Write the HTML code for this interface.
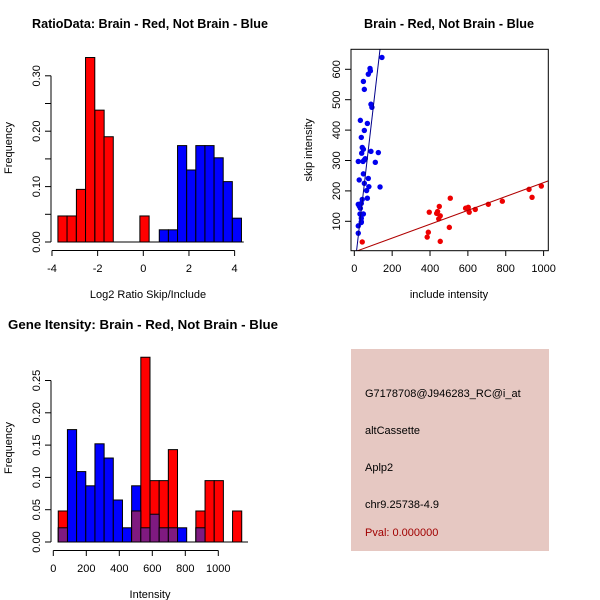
<!DOCTYPE html>
<html><head><meta charset="utf-8"><style>
html,body{margin:0;padding:0;background:#fff;}
svg{display:block;font-family:"Liberation Sans",sans-serif;}
</style></head><body>
<svg id="c" width="600" height="600" viewBox="0 0 600 600">
<rect x="0" y="0" width="600" height="600" fill="#fff"/>
<g id="p1"></g>
<g id="p2"></g>
<g id="p3"></g>
<g id="p4">
<rect x="351" y="349" width="198" height="202" fill="#e6c8c2"/>
<text x="365" y="397" font-size="11" fill="#000">G7178708@J946283_RC@i_at</text>
<text x="365" y="434" font-size="11" fill="#000">altCassette</text>
<text x="365" y="471" font-size="11" fill="#000">Aplp2</text>
<text x="365" y="508" font-size="11" fill="#000">chr9.25738-4.9</text>
<text x="365" y="536" font-size="11" fill="#a00000">Pval: 0.000000</text>
</g>
</svg>
<script>
// ---- Panel 1 data: log2 ratio histogram ----
const ratioRedLeft = [-3.74,-3.34,-2.93,-2.53,-2.12,-1.72,-0.15];
const ratioRedVals = [0.047,0.047,0.095,0.333,0.238,0.19,0.047];
const ratioBlueLeft = [0.70,1.10,1.50,1.90,2.30,2.70,3.10,3.50,3.90];
const ratioBlueVals = [0.022,0.022,0.174,0.13,0.174,0.174,0.152,0.109,0.043];
const ratioBinWidth = 0.405;
const ratioXTicks = [-4,-2,0,2,4];
const ratioYTicks = [0,0.1,0.2,0.3];
const ratioYTickLabels = ["0.00","0.10","0.20","0.30"];
// ---- Panel 2 data: scatter ----
const blueInclude = [146,83,85,74,48,53,88,93,32,69,53,37,42,48,88,127,39,21,46,53,111,58,48,26,74,53,77,136,65,69,42,21,26,37,32,30,48,37,37,21,21,37];
const blueSkip = [639,603,595,584,560,534,485,475,432,422,399,376,343,337,330,326,324,297,297,302,294,306,256,236,241,225,214,213,201,176,172,156,150,159,143,124,124,110,96,85,61,99];
const redInclude = [42,396,391,385,449,440,435,454,446,454,502,507,588,602,607,639,708,782,923,939,988];
const redSkip = [32,130,64,48,149,132,126,118,108,34,80,176,143,146,130,139,156,166,205,179,216];
const blueFit = [-60.7,5.35];
const redFit = [-0.8,0.228];
const scatterXTicks = [0,200,400,600,800,1000];
const scatterYTicks = [100,200,300,400,500,600];
// ---- Panel 3 data: intensity histogram ----
const intStart = 30, intWidth = 55.6;
const intRed = [0.048,0,0,0,0,0,0,0,0.048,0.286,0.095,0.095,0.143,0,0,0.048,0.095,0.095,0,0.048];
const intBlue = [0.022,0.174,0.109,0.087,0.152,0.13,0.065,0.022,0.087,0.022,0.043,0.022,0.022,0.022,0,0.022,0,0,0,0];
const intXTicks = [0,200,400,600,800,1000];
const intYTicks = [0,0.05,0.1,0.15,0.2,0.25];
const intYTickLabels = ["0.00","0.05","0.10","0.15","0.20","0.25"];

const NS="http://www.w3.org/2000/svg";
function mk(parent,tag,attrs,txt){const e=document.createElementNS(NS,tag);for(const k in attrs)e.setAttribute(k,attrs[k]);if(txt!==undefined)e.textContent=txt;parent.appendChild(e);return e;}

// Panel 1
(function(){
const g=document.getElementById('p1');
const X=v=>143.3+v*22.83, Y=v=>242-v*554;
let t=mk(g,'text',{x:32,y:28,'font-size':12.5,'font-weight':'bold',textLength:236,lengthAdjust:'spacingAndGlyphs'},'RatioData: Brain - Red, Not Brain - Blue');


ratioRedLeft.forEach((l,i)=>{const r=mk(g,'rect',{x:X(l),y:Y(ratioRedVals[i]),width:X(l+ratioBinWidth)-X(l),height:Y(0)-Y(ratioRedVals[i]),fill:'#ff0000',stroke:'#000','stroke-width':1});

});
ratioBlueLeft.forEach((l,i)=>{const r=mk(g,'rect',{x:X(l),y:Y(ratioBlueVals[i]),width:X(l+0.4)-X(l),height:Y(0)-Y(ratioBlueVals[i]),fill:'#0000ff',stroke:'#000','stroke-width':1});

});
let b=mk(g,'line',{x1:X(-3.74),x2:X(4.4),y1:Y(0),y2:Y(0),stroke:'#000'});


mk(g,'line',{x1:X(-4),x2:X(4),y1:250.5,y2:250.5,stroke:'#000'});
ratioXTicks.forEach(v=>{mk(g,'line',{x1:X(v),x2:X(v),y1:250.5,y2:256,stroke:'#000'});
const l=mk(g,'text',{x:X(v),y:272,'font-size':11,'text-anchor':'middle'},String(v));

});
mk(g,'line',{x1:51,x2:51,y1:Y(0),y2:Y(0.3),stroke:'#000'});
ratioYTicks.forEach((v,i)=>{mk(g,'line',{x1:45,x2:51,y1:Y(v),y2:Y(v),stroke:'#000'});
const l=mk(g,'text',{x:0,y:0,'font-size':11,'text-anchor':'middle',transform:`translate(40,${Y(v)}) rotate(-90)`},ratioYTickLabels[i]);

});
for(let v=0.05;v<0.3;v+=0.1){mk(g,'line',{x1:45,x2:51,y1:Y(v),y2:Y(v),stroke:'#000'});}
let xl=mk(g,'text',{x:148,y:298,'font-size':11,'text-anchor':'middle'},'Log2 Ratio Skip/Include');


let yl=mk(g,'text',{x:0,y:0,'font-size':11,'text-anchor':'middle',transform:'translate(12,148) rotate(-90)'},'Frequency');


})();

// Panel 2
(function(){
const g=document.getElementById('p2');
const X=v=>354.3+v*0.1893, Y=v=>251.7-v*0.304;
let t=mk(g,'text',{x:364,y:28,'font-size':12.5,'font-weight':'bold',textLength:170,lengthAdjust:'spacingAndGlyphs'},'Brain - Red, Not Brain - Blue');


const cp=mk(g,'clipPath',{id:'scClip'});mk(cp,'rect',{x:351,y:49,width:197.5,height:202});
blueInclude.forEach((v,i)=>{const c=mk(g,'circle',{cx:X(v),cy:Y(blueSkip[i]),r:2.7,fill:'#0000ee'});

});
redInclude.forEach((v,i)=>{const c=mk(g,'circle',{cx:X(v),cy:Y(redSkip[i]),r:2.7,fill:'#ee0000'});

});
let bl=mk(g,'line',{x1:X(0),y1:Y(blueFit[0]),x2:X(200),y2:Y(blueFit[0]+blueFit[1]*200),stroke:'#00008b','clip-path':'url(#scClip)'});


let rl=mk(g,'line',{x1:X(-50),y1:Y(redFit[0]-50*redFit[1]),x2:X(1100),y2:Y(redFit[0]+redFit[1]*1100),stroke:'#b00000','clip-path':'url(#scClip)'});


let box=mk(g,'rect',{x:351,y:49.3,width:197.3,height:201.4,fill:'none',stroke:'#000'});


scatterXTicks.forEach(v=>{mk(g,'line',{x1:X(v),x2:X(v),y1:250.7,y2:256,stroke:'#000'});
const l=mk(g,'text',{x:X(v),y:272,'font-size':11,'text-anchor':'middle'},String(v));

});
scatterYTicks.forEach(v=>{mk(g,'line',{x1:345,x2:351,y1:Y(v),y2:Y(v),stroke:'#000'});
const l=mk(g,'text',{x:0,y:0,'font-size':11,'text-anchor':'middle',transform:`translate(340,${Y(v)}) rotate(-90)`},String(v));

});
let xl=mk(g,'text',{x:449,y:298,'font-size':11,'text-anchor':'middle'},'include intensity');


let yl=mk(g,'text',{x:0,y:0,'font-size':11,'text-anchor':'middle',transform:'translate(312,150) rotate(-90)'},'skip intensity');


})();

// Panel 3
(function(){
const g=document.getElementById('p3');
const X=v=>53.3+v*0.165, Y=v=>542-v*646;
let t=mk(g,'text',{x:8,y:329,'font-size':12.5,'font-weight':'bold',textLength:270,lengthAdjust:'spacingAndGlyphs'},'Gene Itensity: Brain - Red, Not Brain - Blue');


intBlue.forEach((v,i)=>{if(!v)return;const l=intStart+i*intWidth;const r=mk(g,'rect',{x:X(l),y:Y(v),width:X(l+intWidth)-X(l),height:Y(0)-Y(v),fill:'#0000ff',stroke:'#000'});

});
intRed.forEach((v,i)=>{if(!v)return;const l=intStart+i*intWidth;const r=mk(g,'rect',{x:X(l),y:Y(v),width:X(l+intWidth)-X(l),height:Y(0)-Y(v),fill:'#ff0000',stroke:'#000'});

});
intRed.forEach((v,i)=>{const m=Math.min(v,intBlue[i]);if(!m)return;const l=intStart+i*intWidth;const r=mk(g,'rect',{x:X(l),y:Y(m),width:X(l+intWidth)-X(l),height:Y(0)-Y(m),fill:'#7f1a80',stroke:'#000'});

});
let b=mk(g,'line',{x1:X(intStart),x2:X(1180),y1:Y(0),y2:Y(0),stroke:'#000'});


mk(g,'line',{x1:X(0),x2:X(1000),y1:550.5,y2:550.5,stroke:'#000'});
intXTicks.forEach(v=>{mk(g,'line',{x1:X(v),x2:X(v),y1:550.5,y2:556,stroke:'#000'});
const l=mk(g,'text',{x:X(v),y:572,'font-size':11,'text-anchor':'middle'},String(v));

});
mk(g,'line',{x1:51,x2:51,y1:Y(0),y2:Y(0.25),stroke:'#000'});
intYTicks.forEach((v,i)=>{mk(g,'line',{x1:45,x2:51,y1:Y(v),y2:Y(v),stroke:'#000'});
const l=mk(g,'text',{x:0,y:0,'font-size':11,'text-anchor':'middle',transform:`translate(40,${Y(v)}) rotate(-90)`},intYTickLabels[i]);

});
let xl=mk(g,'text',{x:150,y:598,'font-size':11,'text-anchor':'middle'},'Intensity');


let yl=mk(g,'text',{x:0,y:0,'font-size':11,'text-anchor':'middle',transform:'translate(12,448) rotate(-90)'},'Frequency');


})();
</script>
</body></html>
